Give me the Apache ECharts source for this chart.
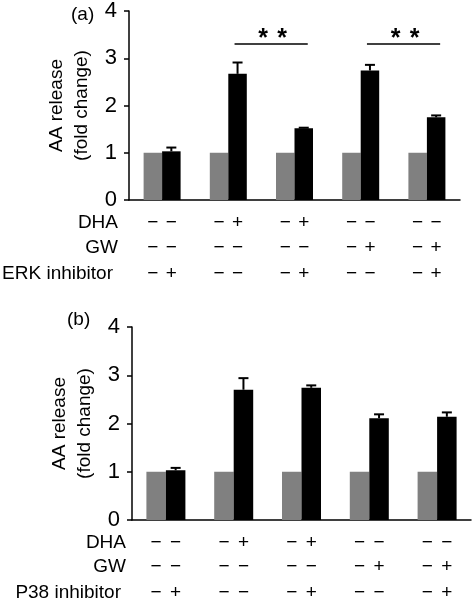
<!DOCTYPE html>
<html><head><meta charset="utf-8">
<script src="https://cdn.jsdelivr.net/npm/echarts@6/dist/echarts.min.js"></script>
<style>html,body{margin:0;padding:0;background:#fff}#c{width:475px;height:605px}</style>
</head><body><div id="c"></div>
<script>
// ---- data ----
const categories = ['G1', 'G2', 'G3', 'G4', 'G5'];
const ctrlA = [1, 1, 1, 1, 1];
const treatA = [1.03, 2.67, 1.52, 2.74, 1.75];
const errA = [0.08, 0.24, 0.01, 0.12, 0.04];
const ctrlB = [1, 1, 1, 1, 1];
const treatB = [1.03, 2.70, 2.74, 2.11, 2.14];
const errB = [0.05, 0.24, 0.05, 0.08, 0.09];
const rowLabelsA = ['DHA', 'GW', 'ERK inhibitor'];
const rowLabelsB = ['DHA', 'GW', 'P38 inhibitor'];
const dhaSigns = ['−−', '−+', '−+', '−−', '−−'];
const gwSigns = ['−−', '−−', '−−', '−+', '−+'];
const inhSigns = ['−+', '−−', '−+', '−−', '−+'];
const sigA = [[1, 2, 3.30], [3, 4, 3.30]];
const sigLabel = '*';
const panelLabels = ['(a)', '(b)'];

const FONT = '"Liberation Sans", Arial, Helvetica, sans-serif';
const chart = echarts.init(document.getElementById('c'));
const bwA = 18.5, bwB = 19.5;

function signsSeries(gi, bw, labels, labelRight, rowOff) {
  return {
    type: 'custom', xAxisIndex: gi, yAxisIndex: gi, clip: false, silent: true, z: 10,
    data: categories.map((c, i) => [i, 0]),
    renderItem: function (params, api) {
      const i = params.dataIndex;
      const p = api.coord([i, 0]);
      const rows = [dhaSigns[i], gwSigns[i], inhSigns[i]];
      const children = [];
      rows.forEach((s, r) => {
        [0, 1].forEach(j => {
          children.push({
            type: 'text',
            style: {
              x: p[0] + (j === 0 ? -bw / 2 : bw / 2), y: p[1] + rowOff[r],
              text: s.charAt(j), fill: '#000', font: '19px ' + FONT,
              textAlign: 'center', textVerticalAlign: 'middle'
            }
          });
        });
      });
      if (i === 0) {
        const left = p[0] - api.size([1, 0])[0] / 2;
        labels.forEach((l, r) => {
          children.push({
            type: 'text',
            style: {
              x: left - labelRight[r], y: p[1] + rowOff[r], text: l, fill: '#000',
              font: '19px ' + FONT, textAlign: 'right', textVerticalAlign: 'middle'
            }
          });
        });
      }
      return { type: 'group', children: children };
    }
  };
}

function errSeries(gi, bw, vals, errs) {
  return {
    type: 'custom', xAxisIndex: gi, yAxisIndex: gi, clip: false, silent: true, z: 5,
    data: vals.map((v, i) => [i, v, errs[i]]),
    renderItem: function (params, api) {
      const i = api.value(0), v = api.value(1), e = api.value(2);
      const p = api.coord([i, v]);
      const t = api.coord([i, v + e]);
      const x = p[0] + bw / 2;
      const st = { stroke: '#000', lineWidth: 2 };
      return {
        type: 'group', children: [
          { type: 'line', shape: { x1: x, y1: p[1], x2: x, y2: t[1] }, style: st },
          { type: 'line', shape: { x1: x - 5, y1: t[1], x2: x + 5, y2: t[1] }, style: st }
        ]
      };
    }
  };
}

function sigSeries(gi, bw, sig) {
  return {
    type: 'custom', xAxisIndex: gi, yAxisIndex: gi, clip: false, silent: true, z: 6,
    data: sig,
    renderItem: function (params, api) {
      const a = api.coord([api.value(0), api.value(2)]);
      const b = api.coord([api.value(1), api.value(2)]);
      const x1 = a[0] + bw / 2 - 3, x2 = b[0] + bw / 2 + 4, y = a[1];
      const cx = (x1 + x2) / 2;
      const f = 'bold 25px ' + FONT;
      return {
        type: 'group', children: [
          { type: 'line', shape: { x1: x1, y1: y, x2: x2, y2: y }, style: { stroke: '#000', lineWidth: 1.5 } },
          { type: 'text', style: { x: cx - 8, y: y - 5, text: sigLabel, font: f, fill: '#000', textAlign: 'center', textVerticalAlign: 'middle' } },
          { type: 'text', style: { x: cx + 11, y: y - 5, text: sigLabel, font: f, fill: '#000', textAlign: 'center', textVerticalAlign: 'middle' } }
        ]
      };
    }
  };
}

function xAx(gi) {
  return {
    type: 'category', gridIndex: gi, data: categories,
    axisLabel: { show: false }, axisTick: { show: false },
    axisLine: { lineStyle: { color: '#000', width: 1.5 } }
  };
}
function yAx(gi) {
  return {
    type: 'value', gridIndex: gi, min: 0, max: 4, interval: 1,
    name: 'AA release\n(fold change)', nameLocation: 'middle', nameGap: 35,
    nameTextStyle: { fontSize: 19, lineHeight: 25, color: '#000', fontFamily: FONT },
    axisLine: { show: true, lineStyle: { color: '#000', width: 1.5 } },
    axisTick: { show: true, length: 5, lineStyle: { color: '#000', width: 1.5 } },
    axisLabel: { fontSize: 22, color: '#000', fontFamily: FONT, margin: 12 },
    splitLine: { show: false }
  };
}

chart.setOption({
  animation: false,
  backgroundColor: '#fff',
  grid: [
    { left: 129, right: 15, top: 11, bottom: 405 },
    { left: 132, right: 4, top: 327, bottom: 85 }
  ],
  xAxis: [xAx(0), xAx(1)],
  yAxis: [yAx(0), yAx(1)],
  title: [
    { text: panelLabels[0], left: 66, top: 0, textStyle: { fontSize: 19, fontWeight: 'normal', color: '#000', fontFamily: FONT } },
    { text: panelLabels[1], left: 62, top: 305, textStyle: { fontSize: 19, fontWeight: 'normal', color: '#000', fontFamily: FONT } }
  ],
  series: [
    { type: 'bar', xAxisIndex: 0, yAxisIndex: 0, data: ctrlA, barWidth: bwA, barGap: '0%', itemStyle: { color: '#808080' } },
    { type: 'bar', xAxisIndex: 0, yAxisIndex: 0, data: treatA, barWidth: bwA, barGap: '0%', itemStyle: { color: '#000' } },
    { type: 'bar', xAxisIndex: 1, yAxisIndex: 1, data: ctrlB, barWidth: bwB, barGap: '0%', itemStyle: { color: '#808080' } },
    { type: 'bar', xAxisIndex: 1, yAxisIndex: 1, data: treatB, barWidth: bwB, barGap: '0%', itemStyle: { color: '#000' } },
    errSeries(0, bwA, treatA, errA),
    errSeries(1, bwB, treatB, errB),
    sigSeries(0, bwA, sigA),
    signsSeries(0, bwA, rowLabelsA, [11, 11, 16], [23, 48, 74]),
    signsSeries(1, bwB, rowLabelsB, [6, 6, 11], [23, 47, 73])
  ]
});
</script></body></html>
